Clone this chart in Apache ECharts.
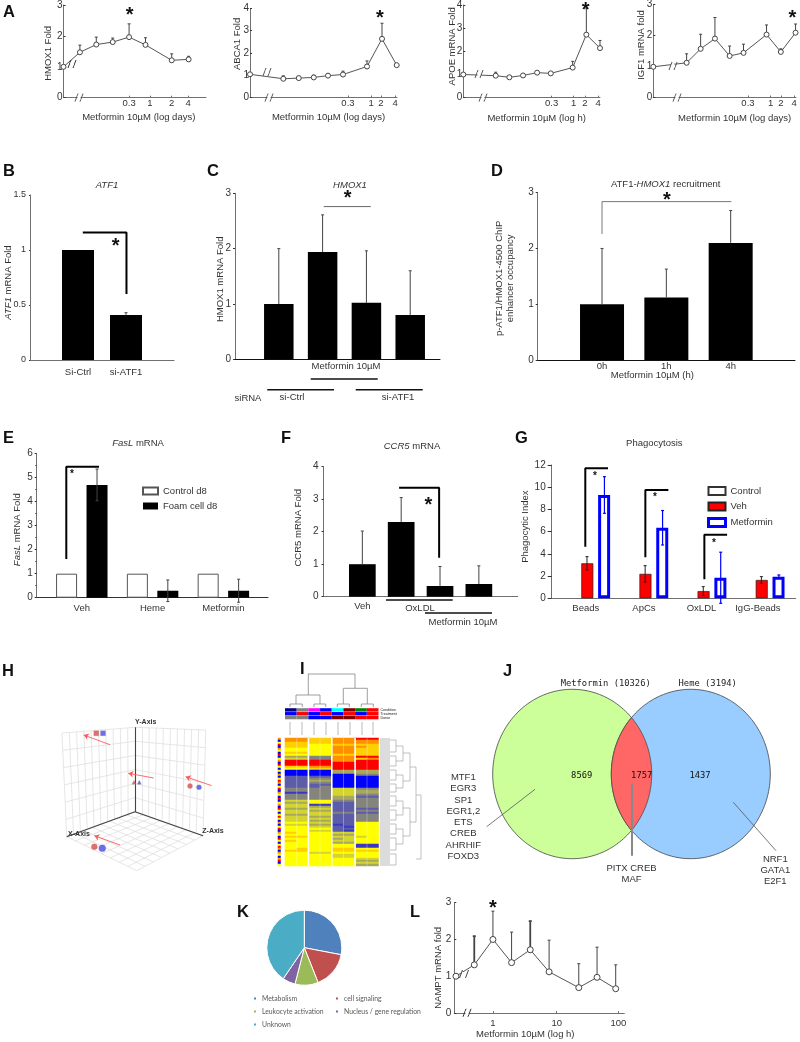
<!DOCTYPE html>
<html><head><meta charset="utf-8"><style>html,body{margin:0;padding:0;background:#fff}#c{width:800px;height:1042px}</style>
<script src="https://cdn.jsdelivr.net/npm/echarts@6/dist/echarts.min.js"></script></head>
<body><div id="c"></div><script>
// ---------- data ----------
const a1X=[0,1,2,3,4,5,6.6,7.63], a1Y=[1,1.47,1.72,1.8,1.96,1.71,1.21,1.24], a1E=[0,.23,.24,.13,.43,.23,.21,.1];
const a2X=[0,2.22,3.25,4.25,5.2,6.2,7.8,8.8,9.78], a2Y=[1.04,.84,.87,.9,.98,1.03,1.39,2.63,1.45], a2E=[0,.13,.08,.1,.08,.15,.25,.7,0];
const a3X=[0,2.37,3.37,4.37,5.4,6.4,8,9,10], a3Y=[1,.95,.88,.96,1.08,1.05,1.3,2.72,2.14], a3E=[0,.15,.05,.07,.05,.05,.27,1.15,.33];
const a4X=[0,2.33,3.31,4.31,5.34,6.31,7.92,8.92,9.95], a4Y=[.99,1.12,1.57,1.9,1.34,1.44,2.03,1.47,2.09], a4E=[0,.29,.47,.68,.32,.28,.31,.1,.28];
const lX=[.09,1.07,2.07,3.07,4.07,5.08,6.67,7.65,8.65], lY=[1,1.31,2,1.37,1.72,1.12,.69,.97,.66], lE=[0,.78,.77,.83,.78,.86,.65,.82,.65];
const a1Ticks=[4,5.27,6.6,7.6], a1Labels=['0.3','1','2','4'];
const a2Ticks=[6.53,8.07,8.73,9.67], a3Ticks=[6.46,8.07,8.9,9.86], a4Ticks=[6.62,8.2,8.92,9.85];
const lTicks=[2.07,5.49,8.79], lLabels=['1','10','100'];
const bCats=['Si-Ctrl','si-ATF1'], bY=[1,.41], bE=[0,.02];
const cY=[1,1.94,1.02,.8], cE=[1,.67,.94,.8];
const dCats=['0h','1h','4h'], dY=[1,1.12,2.1], dE=[1,.51,.58];
const eCats=['Veh','Heme','Metformin'], eControl=[1,1,1], eFoam=[4.7,.29,.29], eE=[.66,.45,.48];
const fY=[1,2.3,.33,.39], fE=[1.02,.75,.6,.56];
const gCats=['Beads','ApCs','OxLDL','IgG-Beads'], gVeh=[3.15,2.2,.65,1.65], gMet=[9.3,6.35,1.85,1.95], gVehE=[.6,.74,.4,.3], gMetE=[1.65,1.55,2.3,.15];
const hRed=[[46.3,18.3,'rect',5],[84,67.3,'triangle',4],[140,71,'circle',5],[44.3,131.7,'circle',6]];
const hBlue=[[53,18.3,'rect',5],[89.3,67.3,'triangle',4],[149,72.3,'circle',5],[52.3,133.3,'circle',7]];
const hArrows=[[[60,29.7],[33.7,20]],[[103.7,63],[78.3,58.3]],[[161.7,70.7],[135.7,61.7]],[[70,130],[44.3,120.7]]];
const hAxes={O:[85,96.7],Y:[85,12.3],TL:[12,18],X:[16.7,121.7],TR:[155.7,15],Z:[153,120.7],F:[86.7,155.7]};
// heat map: each row = 8 columns on a 0 (blue) .. 9 (red) ladder
const heatRows=['88778899','88778888','77778888','77667777','77668887','66668877','66668877','77668877','66667777',
'44338899','55338878','99998899','99999999','99999999','77889999','66779999','00004444','00004444','00000033',
'22220000','22330000','22440000','22330000','22220000','22230000','33335533','33335544','11335544','33335533','33334422','33334433',
'55663333','44662233','55112233','55442233','44552222','55442233','55553322','44552233','55442233','55552233','55442233','66552266','55441266','66552166','66662266','66552166',
'76665566','66664466','77665556','66664566','76665566','66664466','66666611','66666611','67667766','77667777','66556666','66665566','66665566','66666655','66666644','66666655','66666644'];
const heatStrip='8069086090680960608069806908609068096069608069086096069808608906';
const annotColors=[['#000080','#808080','#ff00ff','#0000ff','#00ffff','#800000','#008000','#ff0000'],
['#0000ff','#ff0000','#0000ff','#ff0000','#0000ff','#ff0000','#0000ff','#ff0000'],
['#808080','#808080','#0000ff','#0000ff','#800000','#800000','#ff0000','#ff0000']];
const annotNames=['Condition','Treatment','Donor'];
const vennEllipses=[[82.2,94,79.5,84.7],[200.8,94,79.5,84.7]];
const vennNames=['Metformin (10326)','Heme (3194)'], vennCounts=['8569','1757','1437'];
const listLeft=['MTF1','EGR3','SP1','EGR1,2','ETS','CREB','AHRHIF','FOXD3'], listMid=['PITX CREB','MAF'], listRight=['NRF1','GATA1','E2F1'];
const kNames=['Metabolism','cell signaling','Leukocyte activation','Nucleus / gene regulation','Unknown'], kVals=[28,16,10,5.5,40.5], kColors=['#4f81bd','#c0504d','#9bbb59','#8064a2','#4bacc6'];

// ---------- helpers ----------
const FONT="'Liberation Sans',Arial,sans-serif", TXT='#333', AX='#707070', FS=9.5;
const grids=[],xAxes=[],yAxes=[],series=[],gfx=[];
function text(x,y,s,o={}){gfx.push({type:'text',x,y,rotation:o.rot||0,z:100,silent:true,style:{text:s,fontFamily:o.family||FONT,fontSize:o.size||FS,fontWeight:o.weight||'normal',fontStyle:o.style||'normal',fill:o.fill||TXT,align:o.align||'center',verticalAlign:'middle',rich:o.rich,lineHeight:o.lh}})}
function star(x,y,size=20){text(x,y+size*.15,'*',{size,weight:'bold',fill:'#111'})}
function letter(x,y,s){text(x,y,s,{size:16.5,weight:'bold',fill:'#111',align:'left'})}
function seg(x1,y1,x2,y2,color='#000',w=1){gfx.push({type:'line',z:90,silent:true,shape:{x1,y1,x2,y2},style:{stroke:color,lineWidth:w}})}
function brk(x,y,gap=6,color='#555'){gfx.push({type:'rect',z:95,silent:true,shape:{x:x-gap/2+1,y:y-2,width:gap-2,height:4},style:{fill:'#fff'}});seg(x-gap/2-1.5,y+4,x-gap/2+1.5,y-4,color,1);seg(x+gap/2-1.5,y+4,x+gap/2+1.5,y-4,color,1)}
const rich={i:{fontStyle:'italic',fontFamily:FONT,fontSize:FS,color:TXT}};
function pad(d){return d>0?[0,0,0,2*d]:[0,-2*d,0,0]}
function panel(p){
  const i=grids.length, fs=p.fs||FS;
  grids.push({left:p.l,top:p.t,width:p.r-p.l,height:p.b-p.t,outerBoundsMode:'none'});
  const labs=p.labels||[], pos=p.pos||[];
  xAxes.push({gridIndex:i,type:'value',min:p.xMin||0,max:p.xMax,splitLine:{show:false},nameMoveOverlap:false,
    axisLine:{onZero:false,lineStyle:{color:p.axC||AX,width:p.axW||1}},
    axisTick:{show:pos.length>0&&!p.noTick,customValues:p.tickPos||pos,length:2,inside:true,lineStyle:{color:AX}},
    axisLabel:{show:pos.length>0,customValues:pos,margin:p.xm===undefined?5:p.xm,fontSize:fs,fontFamily:FONT,color:TXT,hideOverlap:false,
      formatter:v=>{let b=0;pos.forEach((q,k)=>{if(Math.abs(q-v)<Math.abs(pos[b]-v))b=k});return labs[b]}},
    name:p.xName||'',nameLocation:'middle',nameGap:p.xg||14,nameTextStyle:{fontSize:fs,fontFamily:FONT,color:TXT,padding:p.xd?pad(p.xd):0}});
  yAxes.push({gridIndex:i,type:'value',min:0,max:p.yMax,interval:p.yI,splitLine:{show:false},nameMoveOverlap:false,
    axisLine:{onZero:false,lineStyle:{color:AX,width:1}},
    axisTick:{length:p.tl||2,inside:!!p.yIn,lineStyle:{color:'#333'}},
    minorTick:p.minor?{show:true,splitNumber:2,length:1.5,lineStyle:{color:'#555'}}:{show:false},
    axisLabel:{fontSize:p.yfs||10,fontFamily:FONT,color:TXT,margin:p.ym||4},
    name:p.yName||'',nameLocation:'middle',nameRotate:90,nameGap:p.yg===undefined?10:p.yg,
    nameTextStyle:{fontSize:fs,fontFamily:FONT,color:TXT,rich,lineHeight:p.ylh||12,padding:p.yd?pad(p.yd):0}});
  return i;
}
function errs(i,xs,ys,es,o={}){
  const color=o.color||'#444',w=o.w||1,cap=o.cap===undefined?1.5:o.cap,both=!!o.both;
  series.push({type:'custom',xAxisIndex:i,yAxisIndex:i,z:o.z||3,silent:true,clip:false,encode:{x:0,y:1},
    data:xs.map((x,k)=>[x,ys[k],es[k],(o.thick||[]).includes(k)?1.8:w]),
    renderItem:(pm,api)=>{const x=api.value(0),y=api.value(1),e=api.value(2),lw=api.value(3);if(!e)return null;
      const t=api.coord([x,y+e]),b=api.coord([x,both?y-e:y]);const st={stroke:color,lineWidth:lw};
      const ch=[{type:'line',shape:{x1:t[0],y1:t[1],x2:b[0],y2:b[1]},style:st},{type:'line',shape:{x1:t[0]-cap,y1:t[1],x2:t[0]+cap,y2:t[1]},style:st}];
      if(both)ch.push({type:'line',shape:{x1:b[0]-cap,y1:b[1],x2:b[0]+cap,y2:b[1]},style:st});
      return {type:'group',children:ch};}});
}
function curve(i,xs,ys,size=5){series.push({type:'line',xAxisIndex:i,yAxisIndex:i,z:5,clip:false,silent:true,data:xs.map((x,k)=>[x,ys[k]]),symbol:'circle',symbolSize:size,showSymbol:true,
  lineStyle:{color:'#555',width:1},itemStyle:{color:'#fff',borderColor:'#444',borderWidth:1}})}
function bars(i,xs,ys,w,o={}){series.push({type:'bar',name:o.name,xAxisIndex:i,yAxisIndex:i,barWidth:w,barGap:o.gap,z:2,silent:true,data:xs.map((x,k)=>[x,ys[k]]),
  itemStyle:{color:o.color||'#000',borderColor:o.border||o.color||'#000',borderWidth:o.bw===undefined?0:o.bw}})}
function bracket(i,pts,color='#000',w=2){series.push({type:'line',xAxisIndex:i,yAxisIndex:i,z:6,clip:false,silent:true,symbol:'none',data:pts,lineStyle:{color,width:w}})}
function hidden(l,t,w,h,xA,yA){const i=grids.length;grids.push({left:l,top:t,width:w,height:h,outerBoundsMode:'none'});
  xAxes.push(Object.assign({gridIndex:i,show:false},xA));yAxes.push(Object.assign({gridIndex:i,show:false},yA));return i}

// ---------- A ----------
const mx='Metformin 10µM (log days)';
let g=panel({l:63.5,r:206,t:5,b:97.7,xMax:8.69,yMax:3,yI:1,yIn:1,pos:a1Ticks,labels:a1Labels,xm:1,xName:mx,xg:15,xd:4,yName:'HMOX1 Fold',yg:9.5,yd:-2,ym:1});
errs(g,a1X,a1Y,a1E);curve(g,a1X,a1Y);
g=panel({l:250,r:397,t:8.3,b:97.5,xMax:9.8,yMax:4,yI:1,yIn:1,pos:a2Ticks,labels:a1Labels,xm:1,xName:mx,xg:15,xd:5,yName:'ABCA1 Fold',yg:7,yd:9,ym:1});
errs(g,a2X,a2Y,a2E);curve(g,a2X,a2Y);
g=panel({l:463.3,r:600,t:5,b:97.7,xMax:10,yMax:4,yI:1,yIn:1,pos:a3Ticks,labels:a1Labels,xm:1,xName:'Metformin 10µM (log h)',xg:16,xd:5,yName:'APOE mRNA Fold',yg:4.6,yd:5,ym:1});
errs(g,a3X,a3Y,a3E);curve(g,a3X,a3Y);
g=panel({l:653.3,r:796,t:4.5,b:97.5,xMax:9.98,yMax:3,yI:1,yIn:1,pos:a4Ticks,labels:a1Labels,xm:1,xName:mx,xg:16,xd:10,yName:'IGF1 mRNA fold',yg:5.6,yd:6,ym:1});
errs(g,a4X,a4Y,a4E);curve(g,a4X,a4Y);
star(129.7,12);star(380,15);star(585.7,7);star(792.3,15);
[[72,66,80],[262,262,262],[476,476,476],[670,670,670]].forEach(b=>{brk(b[0]+7,97.6,5)});
brk(72,64,5,'#333');brk(267,72,5);brk(479,74,5);brk(673,66,5);

// ---------- B ----------
g=panel({l:30,r:174,t:195,b:360,xMax:3,yMax:1.5,yI:.5,pos:[1,2],labels:bCats,xm:7,tl:1,yName:'{i|ATF1} mRNA Fold',yg:15.7,noTick:1,yd:-5,yfs:9});
bars(g,[1,2],bY,32);errs(g,[1,2],bY,bE);bracket(g,[[1.1,1.16],[2.01,1.16],[2.01,.6]]);
star(115.7,243);text(107,185,'ATF1',{style:'italic'});
// ---------- C ----------
g=panel({l:235,r:440,t:193.3,b:359.3,xMax:4.68,yMax:3,yI:1,tl:2,yName:'HMOX1 mRNA Fold',yg:9,yd:-3,axC:'#111'});
bars(g,[1,2,3,4],cY,29.5);errs(g,[1,2,3,4],cY,cE);bracket(g,[[2.025,2.76],[3.1,2.76]],'#666',1);
star(347.7,195);text(350,185,'HMOX1',{style:'italic'});
text(346,366.7,'Metformin 10µM');seg(310.7,379,377.7,379,'#111',1.6);seg(267.3,389.7,334,389.7,'#111',1.6);seg(355.7,389.7,422.7,389.7,'#111',1.6);
text(248,398,'siRNA',{align:'center'});text(292,397,'si-Ctrl');text(398,397,'si-ATF1');
// ---------- D ----------
g=panel({l:537.7,r:795,t:192.7,b:360,xMax:4,yMax:3,yI:1,pos:[1,2,3],labels:dCats,xm:1,noTick:1,axC:'#111',xName:'Metformin 10µM (h)',xg:10,xd:-14,
  yName:'p-ATF1/HMOX1-4500 ChIP\nenhancer occupancy',yg:22,yd:-2,ylh:11});
bars(g,[1,2,3],dY,44);errs(g,[1,2,3],dY,dE);bracket(g,[[1,2.26],[1,2.84],[3.01,2.84]],'#777',1);
star(667,197);text(665.7,184,'ATF1-{i|HMOX1} recruitment',{rich});
// ---------- E ----------
g=panel({l:36.7,r:268,t:453.7,b:597.7,xMin:.363,xMax:3.63,yMax:6,yI:1,minor:1,pos:[1,2,3],labels:eCats,noTick:1,xm:6,axC:'#333',axW:1,tl:2,yName:'{i|FasL} mRNA Fold',yg:13.7,yd:-4,ym:4});
bars(g,[1,2,3],eControl,21,{name:'Control d8',color:'#fff',border:'#555',bw:1,gap:'45%'});
bars(g,[1,2,3],eFoam,21,{name:'Foam cell d8',gap:'45%'});
errs(g,[1.215,2.215,3.215],eFoam,eE,{both:1});bracket(g,[[.781,1.61],[.781,5.46],[1.243,5.46]]);
star(72,472.7,10);text(138,443,'{i|FasL} mRNA',{rich});
// ---------- F ----------
g=panel({l:323.5,r:517.7,t:466.7,b:596.7,xMax:5,yMax:4,yI:1,pos:[1],labels:['Veh'],noTick:1,xm:5,yName:'CCR5 mRNA Fold',yg:19.5,yd:4,ym:5});
bars(g,[1,2,3,4],fY,26.7);errs(g,[1,2,3,4],fY,fE);bracket(g,[[1.946,3.35],[2.977,3.35],[2.977,1.2]]);
star(428.3,502.7);text(412,446,'{i|CCR5} mRNA',{rich});
text(420,608.5,'OxLDL');seg(386,600,452.7,600,'#111',1.4);seg(425,613,492,613,'#111',1.4);text(463,622.5,'Metformin 10µM');
// ---------- G ----------
g=panel({l:551.7,r:795.7,t:465,b:598.3,xMin:.243,xMax:4.44,yMax:12,yI:2,pos:[.83,1.83,2.82,3.79],labels:gCats,noTick:1,xm:5,tl:4,yName:'Phagocytic Index',yg:20.7,yd:5,ym:6});
const g4=[1,2,3,4];
series.push({type:'scatter',name:'Control',xAxisIndex:g,yAxisIndex:g,data:[],itemStyle:{color:'#fff',borderColor:'#000',borderWidth:1}});
bars(g,g4,gVeh,12,{name:'Veh',color:'#f00',border:'#222',bw:.7,gap:'40%'});
bars(g,g4,gMet,12,{name:'Metformin',color:'#fff',border:'#00f',bw:3,gap:'40%'});
errs(g,g4.map(v=>v-.15),gVeh,gVehE,{both:1,color:'#222'});errs(g,g4.map(v=>v+.15),gMet,gMetE,{both:1,color:'#00f',w:1.2});
bracket(g,[[.821,4.65],[.821,11.7],[1.212,11.7]]);bracket(g,[[1.854,3.69],[1.854,9.76],[2.25,9.76]]);bracket(g,[[2.869,1.71],[2.869,5.73],[3.26,5.73]]);
star(595,475,10);star(655,496,10);star(714,541.7,10);text(654.3,443.3,'Phagocytosis');

// ---------- H ----------
const hG=hidden(50,715,180,170,{type:'value',min:0,max:180},{type:'value',min:0,max:170,inverse:true});
function mix(a,b,t){return [a[0]+(b[0]-a[0])*t,a[1]+(b[1]-a[1])*t]}
function wall(a,b,c,d,nu,nv){const L=[];for(let k=0;k<=nu;k++){const t=k/nu;L.push({coords:[mix(a,b,t),mix(d,c,t)]})}for(let k=0;k<=nv;k++){const t=k/nv;L.push({coords:[mix(a,d,t),mix(b,c,t)]})}return L}
const A=hAxes;
series.push({type:'lines',coordinateSystem:'cartesian2d',xAxisIndex:hG,yAxisIndex:hG,z:1,silent:true,lineStyle:{color:'#e0e0e0',width:.8,opacity:1},symbol:'none',
  data:[].concat(wall(A.O,A.Y,A.TL,A.X,6,10),wall(A.O,A.Y,A.TR,A.Z,6,10),wall(A.O,A.X,A.F,A.Z,8,8))});
series.push({type:'lines',coordinateSystem:'cartesian2d',xAxisIndex:hG,yAxisIndex:hG,z:2,silent:true,lineStyle:{color:'#444',width:1.1,opacity:1},symbol:'none',
  data:[{coords:[A.O,A.Y]},{coords:[A.O,A.X]},{coords:[A.O,A.Z]}]});
series.push({type:'lines',coordinateSystem:'cartesian2d',xAxisIndex:hG,yAxisIndex:hG,z:4,silent:true,lineStyle:{color:'#ff5a5a',width:.9,opacity:1},symbol:['none','arrow'],symbolSize:5,
  data:hArrows.map(c=>({coords:c}))});
[[hRed,'#e04848'],[hBlue,'#4a4ae6']].forEach(([pts,col])=>series.push({type:'scatter',xAxisIndex:hG,yAxisIndex:hG,z:5,silent:true,itemStyle:{color:col,borderColor:'#888',borderWidth:.3},
  data:pts.map(p=>({value:[p[0],p[1]],symbol:p[2],symbolSize:p[3]}))}));
text(145.7,722,'Y-Axis',{size:7,weight:'bold'});text(79,833.7,'X-Axis',{size:7,weight:'bold'});text(213,831,'Z-Axis',{size:7,weight:'bold'});

// ---------- I ----------
const cols=['c1','c2','c3','c4','c5','c6','c7','c8'];
const heatG=hidden(285,738,93.5,128,{type:'category',data:cols},{type:'category',data:heatRows.map((_,k)=>k),inverse:true});
const heatData=[];heatRows.forEach((r,y)=>[...r].forEach((v,x)=>heatData.push([x,y,+v])));
const heatIdx=series.length;
series.push({type:'heatmap',xAxisIndex:heatG,yAxisIndex:heatG,silent:true,data:heatData,progressive:0});
const stripG=hidden(278,738,2.5,128,{type:'category',data:['s']},{type:'category',data:heatRows.map((_,k)=>k),inverse:true});
series.push({type:'heatmap',xAxisIndex:stripG,yAxisIndex:stripG,silent:true,progressive:0,data:[...heatStrip].map((v,y)=>[0,y,+v])});
const annG=hidden(285,708,93.5,11.5,{type:'category',data:cols},{type:'category',data:annotNames,inverse:true});
const annData=[];annotColors.forEach((r,y)=>r.forEach((c,x)=>annData.push([x,y,c])));
series.push({type:'custom',xAxisIndex:annG,yAxisIndex:annG,silent:true,encode:{x:0,y:1},data:annData,
  renderItem:(pm,api)=>{const c=api.coord([api.value(0),api.value(1)]),s=api.size([1,1]);return {type:'rect',shape:{x:c[0]-s[0]/2,y:c[1]-s[1]/2+.2,width:s[0],height:s[1]-.4},style:{fill:annData[pm.dataIndex][2]}}}});
annotNames.forEach((n,k)=>text(380.5,709.8+k*3.9,n,{size:3.6,align:'left',fill:'#222'}));
[308.4,331.8,355.1].forEach(x=>seg(x,738,x,866,'#fff',1.6));
[296.7,320,343.5,367].forEach(x=>seg(x,738,x,866,'#fff',.3));
[290,302,314,326,338,350,362,373].forEach(x=>seg(x,722,x,735,'#d0d0d0',1.5));
const dG='#777';
[[308,674,355,674],[308.3,674,308.3,695],[296,695,320,695],[296,695,296,704],[320,695,320,704],[290,704,302.3,704],[314,704,325.7,704],[290,704,290,707],[302.3,704,302.3,707],[314,704,314,707],[325.7,704,325.7,707],
 [355,674,355,688.3],[343.3,688.3,367.3,688.3],[343.3,688.3,343.3,704],[367.3,688.3,367.3,704],[337.3,704,349.3,704],[361.3,704,373.3,704],[337.3,704,337.3,707],[349.3,704,349.3,707],[361.3,704,361.3,707],[373.3,704,373.3,707]]
 .forEach(s=>seg(s[0],s[1],s[2],s[3],dG,.7));
heatRows.forEach((_,k)=>seg(380,739+k*2,390,739+k*2,'#c0c0c0',1.1));
[[396,[[740,752],[756,766],[770,780],[784,792],[796,806],[810,820],[824,834],[838,850],[854,865]],390],
 [403,[[746,761],[775,788],[801,815],[829,844]],396],[410,[[753,781],[808,836]],403],[416,[[767,822]],410],[421,[[795,859]],416]].forEach(([x,spans,px])=>spans.forEach(s=>{seg(x,s[0],x,s[1],'#999',.6);seg(px,s[0],x,s[0],'#999',.6);seg(px,s[1],x,s[1],'#999',.6)}));

// ---------- J ----------
const vG=hidden(490,680,290,190,{type:'value',min:0,max:290},{type:'value',min:0,max:190,inverse:true});
function ell(e,a){return [e[0]+e[2]*Math.cos(a),e[1]+e[3]*Math.sin(a)]}
function inside(e,p){const u=(p[0]-e[0])/e[2],v=(p[1]-e[1])/e[3];return u*u+v*v<=1}
function ring(e){const o=[];for(let k=0;k<180;k++)o.push(ell(e,k/180*2*Math.PI));return o}
function lens(a,b){const o=[];for(let k=0;k<=360;k++){const p=ell(b,Math.PI/2+k/360*Math.PI);if(inside(a,p))o.push(p)}
  for(let k=0;k<=360;k++){const q=ell(a,-Math.PI/2+k/360*Math.PI);if(inside(b,q))o.push(q)}return o}
const vShapes=[ring(vennEllipses[0]),ring(vennEllipses[1]),lens(vennEllipses[0],vennEllipses[1])], vFill=['#ccff99','#99ccff','#ff6666'];
series.push({type:'custom',xAxisIndex:vG,yAxisIndex:vG,silent:true,clip:false,z:2,encode:{x:0,y:1},data:[[0,0],[1,0],[2,0]],
  renderItem:(pm,api)=>({type:'polygon',shape:{points:vShapes[pm.dataIndex].map(p=>api.coord(p))},style:{fill:vFill[pm.dataIndex],stroke:'#444',lineWidth:.8}})});
const MONO="'DejaVu Sans Mono',monospace";
text(605.7,683.3,vennNames[0],{family:MONO,size:8.8,fill:'#222'});text(707.7,683.3,vennNames[1],{family:MONO,size:8.8,fill:'#222'});
[581.7,641.7,700].forEach((x,k)=>text(x,775.7,vennCounts[k],{family:MONO,size:8.8,fill:'#111'}));
listLeft.forEach((s,k)=>text(463.3,777.3+k*11.3,s));listMid.forEach((s,k)=>text(631.5,868.3+k*11,s));listRight.forEach((s,k)=>text(775.3,859+k*11,s));
seg(535,789.3,486.7,826.7,'#555',.8);seg(632,783.3,632,855.7,'#888',2);seg(733.3,802.3,776,850.7,'#555',.8);

// ---------- K ----------
series.push({type:'pie',center:[304.3,947.7],radius:37.5,startAngle:90,silent:true,label:{show:false},labelLine:{show:false},itemStyle:{borderColor:'#fff',borderWidth:1},
  data:kNames.map((n,k)=>({name:n,value:kVals[k],itemStyle:{color:kColors[k]}}))});

// ---------- L ----------
g=panel({l:454.3,r:624.3,t:902.7,b:1013,xMax:9.11,yMax:3,yI:1,yIn:1,pos:lTicks,labels:lLabels,xm:5,xName:'Metformin 10µM (log h)',xg:16,xd:-14,yName:'NAMPT mRNA fold',yg:10,yd:-10,ym:3});
errs(g,lX,lY,lE,{thick:[1,4]});curve(g,lX,lY,6);star(493,905);
brk(467,1012.8,5,'#333');brk(464,974,6,'#444');

letter(3,12,'A');letter(3,171,'B');letter(207,171,'C');letter(491,171,'D');letter(3,438,'E');letter(281,438,'F');letter(515,438,'G');letter(2,671,'H');letter(300,669,'I');letter(503,671,'J');letter(237,912,'K');letter(410,912,'L');

const leg=(l,t,data,o={})=>Object.assign({left:l,top:t,orient:'vertical',data,padding:0,itemWidth:15,itemHeight:7,itemGap:5,selectedMode:false,textStyle:{fontSize:FS,fontFamily:FONT,color:TXT}},o);
const kText={textStyle:{fontSize:6.8,fontFamily:"Lato,sans-serif",color:'#595959'},itemWidth:4,itemHeight:4,itemGap:6};
const chart=echarts.init(document.getElementById('c'));
chart.setOption({animation:false,backgroundColor:'#fff',grid:grids,xAxis:xAxes,yAxis:yAxes,series,
  tooltip:{show:false},
  visualMap:{show:false,type:'continuous',min:0,max:9,seriesIndex:[heatIdx,heatIdx+1],dimension:2,calculable:false,
    inRange:{color:['#0000ff','#3a3ac0','#5c5ca8','#84847c','#a8a85c','#d4d430','#ffff00','#ffd000','#ff9000','#ff0000']}},
  legend:[leg(142,486,[{name:'Control d8',icon:'rect'},{name:'Foam cell d8',icon:'rect'}]),
    leg(707,486,[{name:'Control',icon:'rect'},{name:'Veh',icon:'rect'},{name:'Metformin',icon:'rect',itemStyle:{borderWidth:3}}],{itemWidth:17,itemHeight:8,itemGap:5.5}),
    leg(252,995,[{name:'Metabolism',icon:'rect'},{name:'Leukocyte activation',icon:'rect'},{name:'Unknown',icon:'rect'}],kText),leg(334,995,[{name:'cell signaling',icon:'rect'},{name:'Nucleus / gene regulation',icon:'rect'}],kText)],
  graphic:{elements:gfx}});
</script></body></html>
